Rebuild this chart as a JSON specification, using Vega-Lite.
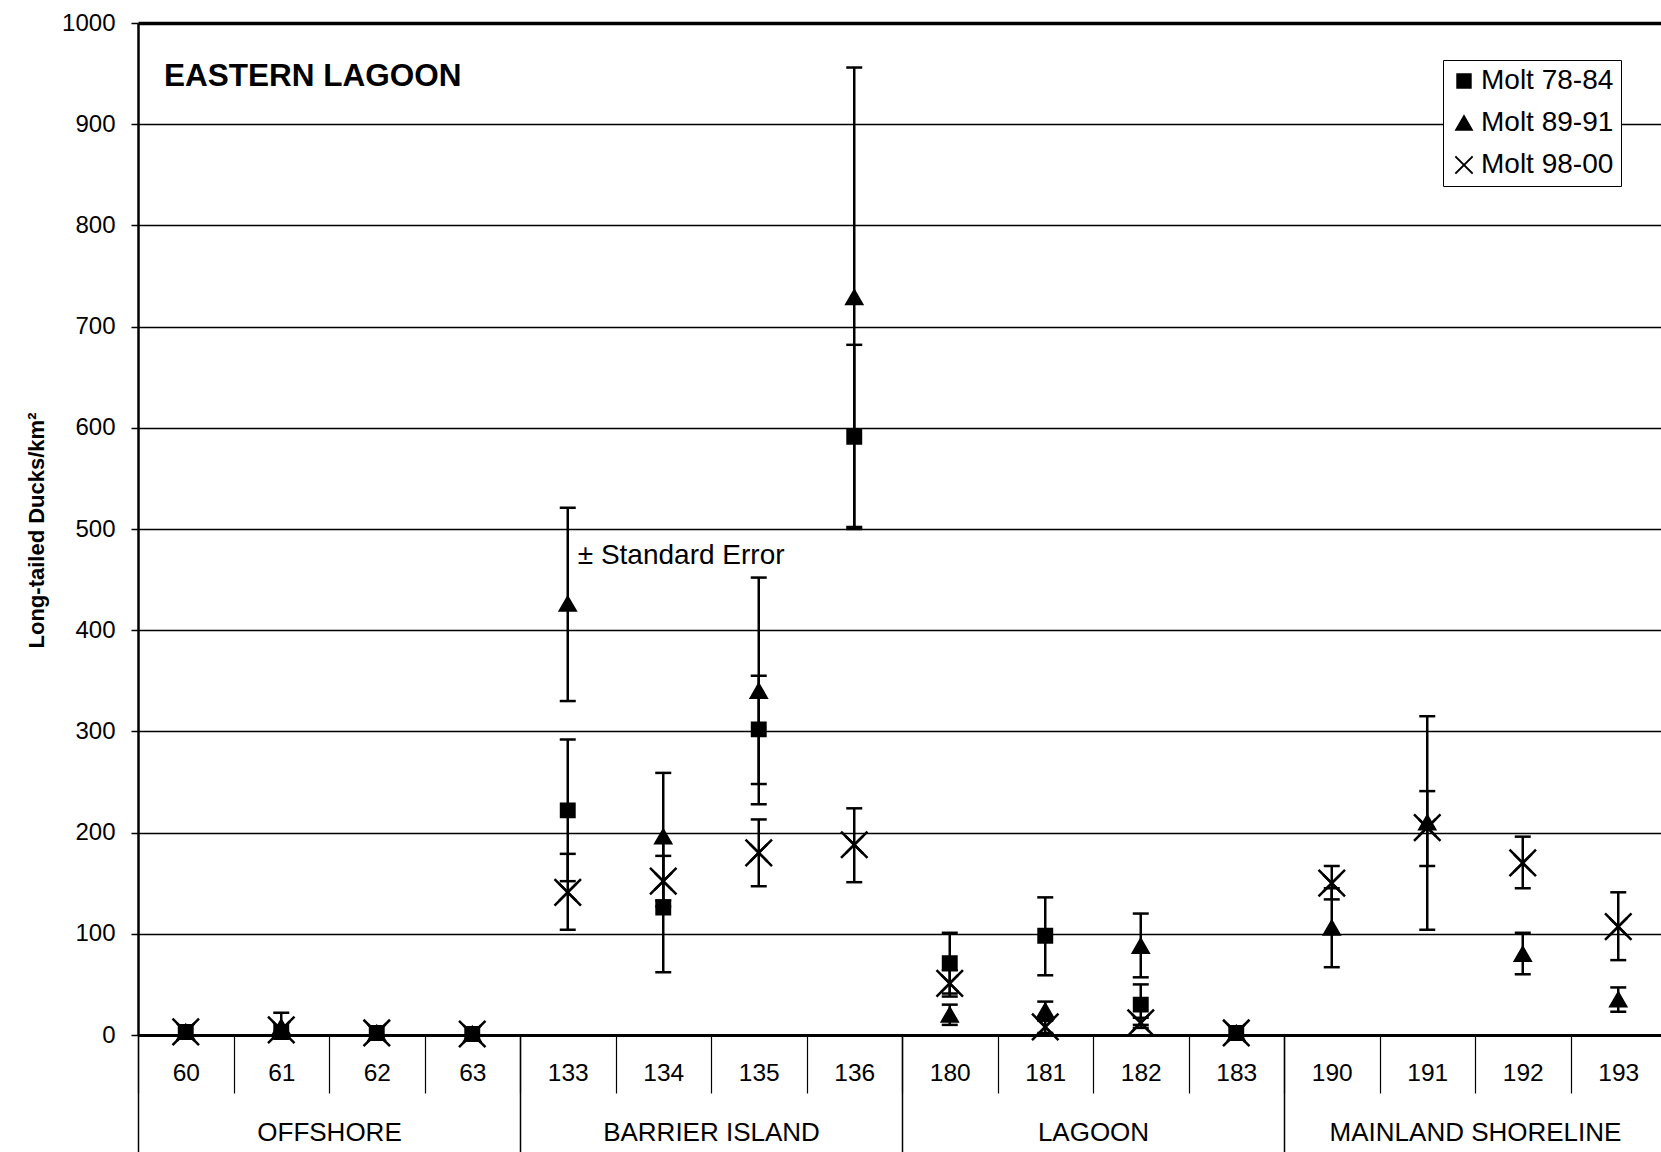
{
  "$schema": "https://vega.github.io/schema/vega-lite/v6.json",
  "width": 1523,
  "height": 1012,
  "autosize": {"type": "none"},
  "padding": {"left": 138, "top": 23, "right": 0, "bottom": 117},
  "background": "white",
  "config": {"view": {"stroke": null}, "font": "Liberation Sans"},
  "title": {"text": "EASTERN LAGOON", "anchor": "start", "frame": "group", "orient": "top", "offset": -106, "baseline": "alphabetic", "dx": 26, "fontSize": 31.5, "fontWeight": "bold", "font": "Liberation Sans", "color": "black"},
  "data": {"values": [
    {"site": "60", "region": "OFFSHORE", "series": "Molt 78-84", "mean": 3, "lo": null, "hi": null},
    {"site": "61", "region": "OFFSHORE", "series": "Molt 78-84", "mean": 3, "lo": null, "hi": null},
    {"site": "62", "region": "OFFSHORE", "series": "Molt 78-84", "mean": 2, "lo": null, "hi": null},
    {"site": "63", "region": "OFFSHORE", "series": "Molt 78-84", "mean": 1, "lo": null, "hi": null},
    {"site": "133", "region": "BARRIER ISLAND", "series": "Molt 78-84", "mean": 222, "lo": 152, "hi": 292},
    {"site": "134", "region": "BARRIER ISLAND", "series": "Molt 78-84", "mean": 126, "lo": 62, "hi": 190},
    {"site": "135", "region": "BARRIER ISLAND", "series": "Molt 78-84", "mean": 302, "lo": 248, "hi": 355},
    {"site": "136", "region": "BARRIER ISLAND", "series": "Molt 78-84", "mean": 591, "lo": 500, "hi": 682},
    {"site": "180", "region": "LAGOON", "series": "Molt 78-84", "mean": 71, "lo": 41, "hi": 101},
    {"site": "181", "region": "LAGOON", "series": "Molt 78-84", "mean": 98, "lo": 59, "hi": 136},
    {"site": "182", "region": "LAGOON", "series": "Molt 78-84", "mean": 30, "lo": 10, "hi": 50},
    {"site": "183", "region": "LAGOON", "series": "Molt 78-84", "mean": 2, "lo": null, "hi": null},
    {"site": "60", "region": "OFFSHORE", "series": "Molt 89-91", "mean": 3, "lo": null, "hi": null},
    {"site": "61", "region": "OFFSHORE", "series": "Molt 89-91", "mean": 8, "lo": 0, "hi": 22},
    {"site": "62", "region": "OFFSHORE", "series": "Molt 89-91", "mean": 2, "lo": null, "hi": null},
    {"site": "63", "region": "OFFSHORE", "series": "Molt 89-91", "mean": 1, "lo": null, "hi": null},
    {"site": "133", "region": "BARRIER ISLAND", "series": "Molt 89-91", "mean": 426, "lo": 330, "hi": 521},
    {"site": "134", "region": "BARRIER ISLAND", "series": "Molt 89-91", "mean": 196, "lo": 133, "hi": 259},
    {"site": "135", "region": "BARRIER ISLAND", "series": "Molt 89-91", "mean": 340, "lo": 228, "hi": 452},
    {"site": "136", "region": "BARRIER ISLAND", "series": "Molt 89-91", "mean": 729, "lo": 502, "hi": 956},
    {"site": "180", "region": "LAGOON", "series": "Molt 89-91", "mean": 20, "lo": 10, "hi": 30},
    {"site": "181", "region": "LAGOON", "series": "Molt 89-91", "mean": 24, "lo": 16, "hi": 33},
    {"site": "182", "region": "LAGOON", "series": "Molt 89-91", "mean": 88, "lo": 57, "hi": 120},
    {"site": "183", "region": "LAGOON", "series": "Molt 89-91", "mean": 2, "lo": null, "hi": null},
    {"site": "190", "region": "MAINLAND SHORELINE", "series": "Molt 89-91", "mean": 106, "lo": 67, "hi": 145},
    {"site": "191", "region": "MAINLAND SHORELINE", "series": "Molt 89-91", "mean": 210, "lo": 104, "hi": 315},
    {"site": "192", "region": "MAINLAND SHORELINE", "series": "Molt 89-91", "mean": 80, "lo": 60, "hi": 101},
    {"site": "193", "region": "MAINLAND SHORELINE", "series": "Molt 89-91", "mean": 35, "lo": 23, "hi": 47},
    {"site": "60", "region": "OFFSHORE", "series": "Molt 98-00", "mean": 3, "lo": null, "hi": null},
    {"site": "61", "region": "OFFSHORE", "series": "Molt 98-00", "mean": 5, "lo": null, "hi": null},
    {"site": "62", "region": "OFFSHORE", "series": "Molt 98-00", "mean": 2, "lo": null, "hi": null},
    {"site": "63", "region": "OFFSHORE", "series": "Molt 98-00", "mean": 1, "lo": null, "hi": null},
    {"site": "133", "region": "BARRIER ISLAND", "series": "Molt 98-00", "mean": 141, "lo": 104, "hi": 179},
    {"site": "134", "region": "BARRIER ISLAND", "series": "Molt 98-00", "mean": 152, "lo": 127, "hi": 177},
    {"site": "135", "region": "BARRIER ISLAND", "series": "Molt 98-00", "mean": 180, "lo": 147, "hi": 213},
    {"site": "136", "region": "BARRIER ISLAND", "series": "Molt 98-00", "mean": 188, "lo": 151, "hi": 224},
    {"site": "180", "region": "LAGOON", "series": "Molt 98-00", "mean": 51, "lo": 38, "hi": 64},
    {"site": "181", "region": "LAGOON", "series": "Molt 98-00", "mean": 8, "lo": 2, "hi": 14},
    {"site": "182", "region": "LAGOON", "series": "Molt 98-00", "mean": 12, "lo": 7, "hi": 17},
    {"site": "183", "region": "LAGOON", "series": "Molt 98-00", "mean": 2, "lo": null, "hi": null},
    {"site": "190", "region": "MAINLAND SHORELINE", "series": "Molt 98-00", "mean": 150, "lo": 134, "hi": 167},
    {"site": "191", "region": "MAINLAND SHORELINE", "series": "Molt 98-00", "mean": 205, "lo": 167, "hi": 241},
    {"site": "192", "region": "MAINLAND SHORELINE", "series": "Molt 98-00", "mean": 170, "lo": 145, "hi": 196},
    {"site": "193", "region": "MAINLAND SHORELINE", "series": "Molt 98-00", "mean": 107, "lo": 74, "hi": 141}
  ]},
  "layer": [
    {
      "mark": {"type": "point", "opacity": 0},
      "encoding": {
        "x": {"field": "region", "type": "nominal", "sort": ["OFFSHORE", "BARRIER ISLAND", "LAGOON", "MAINLAND SHORELINE"],
          "scale": {"range": [0, 1528], "paddingInner": 0, "paddingOuter": 0},
          "axis": {"orient": "bottom", "title": null, "domain": false, "tickBand": "extent", "tickSize": 117, "tickWidth": 1.5, "tickColor": "black", "labelFontSize": 26, "labelFont": "Liberation Sans", "labelPadding": -33, "labelColor": "black", "labelAngle": 0, "labelAlign": "center", "labelLimit": 600, "grid": false}},
        "y": {"field": "mean", "type": "quantitative"}
      }
    },
    {
      "layer": [
        {
          "mark": {"type": "rule", "color": "black", "strokeWidth": 2.5},
          "encoding": {
            "x": {"field": "site", "type": "nominal", "sort": ["60", "61", "62", "63", "133", "134", "135", "136", "180", "181", "182", "183", "190", "191", "192", "193"]},
            "y": {"field": "lo", "type": "quantitative"},
            "y2": {"field": "hi"}
          }
        },
        {
          "mark": {"type": "tick", "color": "black", "thickness": 2.5, "size": 16, "opacity": 1},
          "encoding": {
            "x": {"field": "site", "type": "nominal", "sort": ["60", "61", "62", "63", "133", "134", "135", "136", "180", "181", "182", "183", "190", "191", "192", "193"]},
            "y": {"field": "lo", "type": "quantitative"}
          }
        },
        {
          "mark": {"type": "tick", "color": "black", "thickness": 2.5, "size": 16, "opacity": 1},
          "encoding": {
            "x": {"field": "site", "type": "nominal", "sort": ["60", "61", "62", "63", "133", "134", "135", "136", "180", "181", "182", "183", "190", "191", "192", "193"]},
            "y": {"field": "hi", "type": "quantitative"}
          }
        },
        {
          "mark": {"type": "point", "filled": true, "fill": "black", "stroke": "black", "strokeWidth": 2.5, "opacity": 1},
          "encoding": {
            "x": {"field": "site", "type": "nominal",
              "sort": ["60", "61", "62", "63", "133", "134", "135", "136", "180", "181", "182", "183", "190", "191", "192", "193"],
              "scale": {"range": [0, 1528], "paddingInner": 0, "paddingOuter": 0},
              "axis": {"orient": "bottom", "title": null, "domain": true, "domainColor": "black", "domainWidth": 3, "tickBand": "extent", "tickSize": 58, "tickWidth": 1.2, "tickColor": "black", "labelFontSize": 24.5, "labelFont": "Liberation Sans", "labelPadding": -20, "labelColor": "black", "labelAngle": 0, "labelAlign": "center", "grid": false}},
            "y": {"field": "mean", "type": "quantitative",
              "scale": {"domain": [0, 1000], "nice": false},
              "axis": {"values": [0, 100, 200, 300, 400, 500, 600, 700, 800, 900, 1000], "format": "d",
                "title": "Long-tailed Ducks/km²", "titleFont": "Liberation Sans", "titleFontSize": 22, "titleFontWeight": "bold", "titleColor": "black",
                "titleAngle": -90, "titleX": -102, "titleY": 507, "titleAlign": "center", "titleBaseline": "middle",
                "labelFontSize": 24, "labelFont": "Liberation Sans", "labelColor": "black", "labelPadding": 16,
                "tickSize": 7, "tickColor": "black", "tickWidth": 1.5,
                "domainColor": "black", "domainWidth": 2.5,
                "grid": true, "gridColor": "black", "gridOpacity": 1,
                "gridWidth": {"condition": {"test": "datum.value >= 1000", "value": 3.5}, "value": 1.3}}},
            "shape": {"field": "series", "type": "nominal",
              "scale": {"domain": ["Molt 78-84", "Molt 89-91", "Molt 98-00"], "range": ["square", "triangle-up", "M-1,-1L1,1M-1,1L1,-1"]},
              "legend": {"orient": "none", "legendX": 1305, "legendY": 37, "title": null, "strokeColor": "black", "fillColor": "white", "padding": 7,
                "labelFontSize": 28, "labelFont": "Liberation Sans", "labelColor": "black", "labelOffset": 3, "rowPadding": 14,
                "symbolFillColor": "black", "symbolStrokeColor": "black", "symbolStrokeWidth": 2, "symbolOpacity": 1}},
            "size": {"field": "series", "type": "nominal",
              "scale": {"domain": ["Molt 78-84", "Molt 89-91", "Molt 98-00"], "range": [180, 300, 1000]}}
          }
        },
        {
          "transform": [{"filter": "datum.series === 'Molt 98-00'"}],
          "mark": {"type": "point", "shape": "M-1,-1L1,1M-1,1L1,-1", "size": 700, "filled": false, "stroke": "black", "strokeWidth": 2.5, "opacity": 1},
          "encoding": {
            "x": {"field": "site", "type": "nominal", "sort": ["60", "61", "62", "63", "133", "134", "135", "136", "180", "181", "182", "183", "190", "191", "192", "193"]},
            "y": {"field": "mean", "type": "quantitative"}
          }
        },
        {
          "data": {"values": [{"site": "133", "ypos": 473, "label": "± Standard Error"}]},
          "mark": {"type": "text", "align": "left", "baseline": "middle", "dx": 10, "fontSize": 28, "font": "Liberation Sans", "color": "black"},
          "encoding": {
            "x": {"field": "site", "type": "nominal", "sort": ["60", "61", "62", "63", "133", "134", "135", "136", "180", "181", "182", "183", "190", "191", "192", "193"]},
            "y": {"field": "ypos", "type": "quantitative"},
            "text": {"field": "label"}
          }
        }
      ]
    }
  ],
  "resolve": {"scale": {"x": "independent"}}
}
